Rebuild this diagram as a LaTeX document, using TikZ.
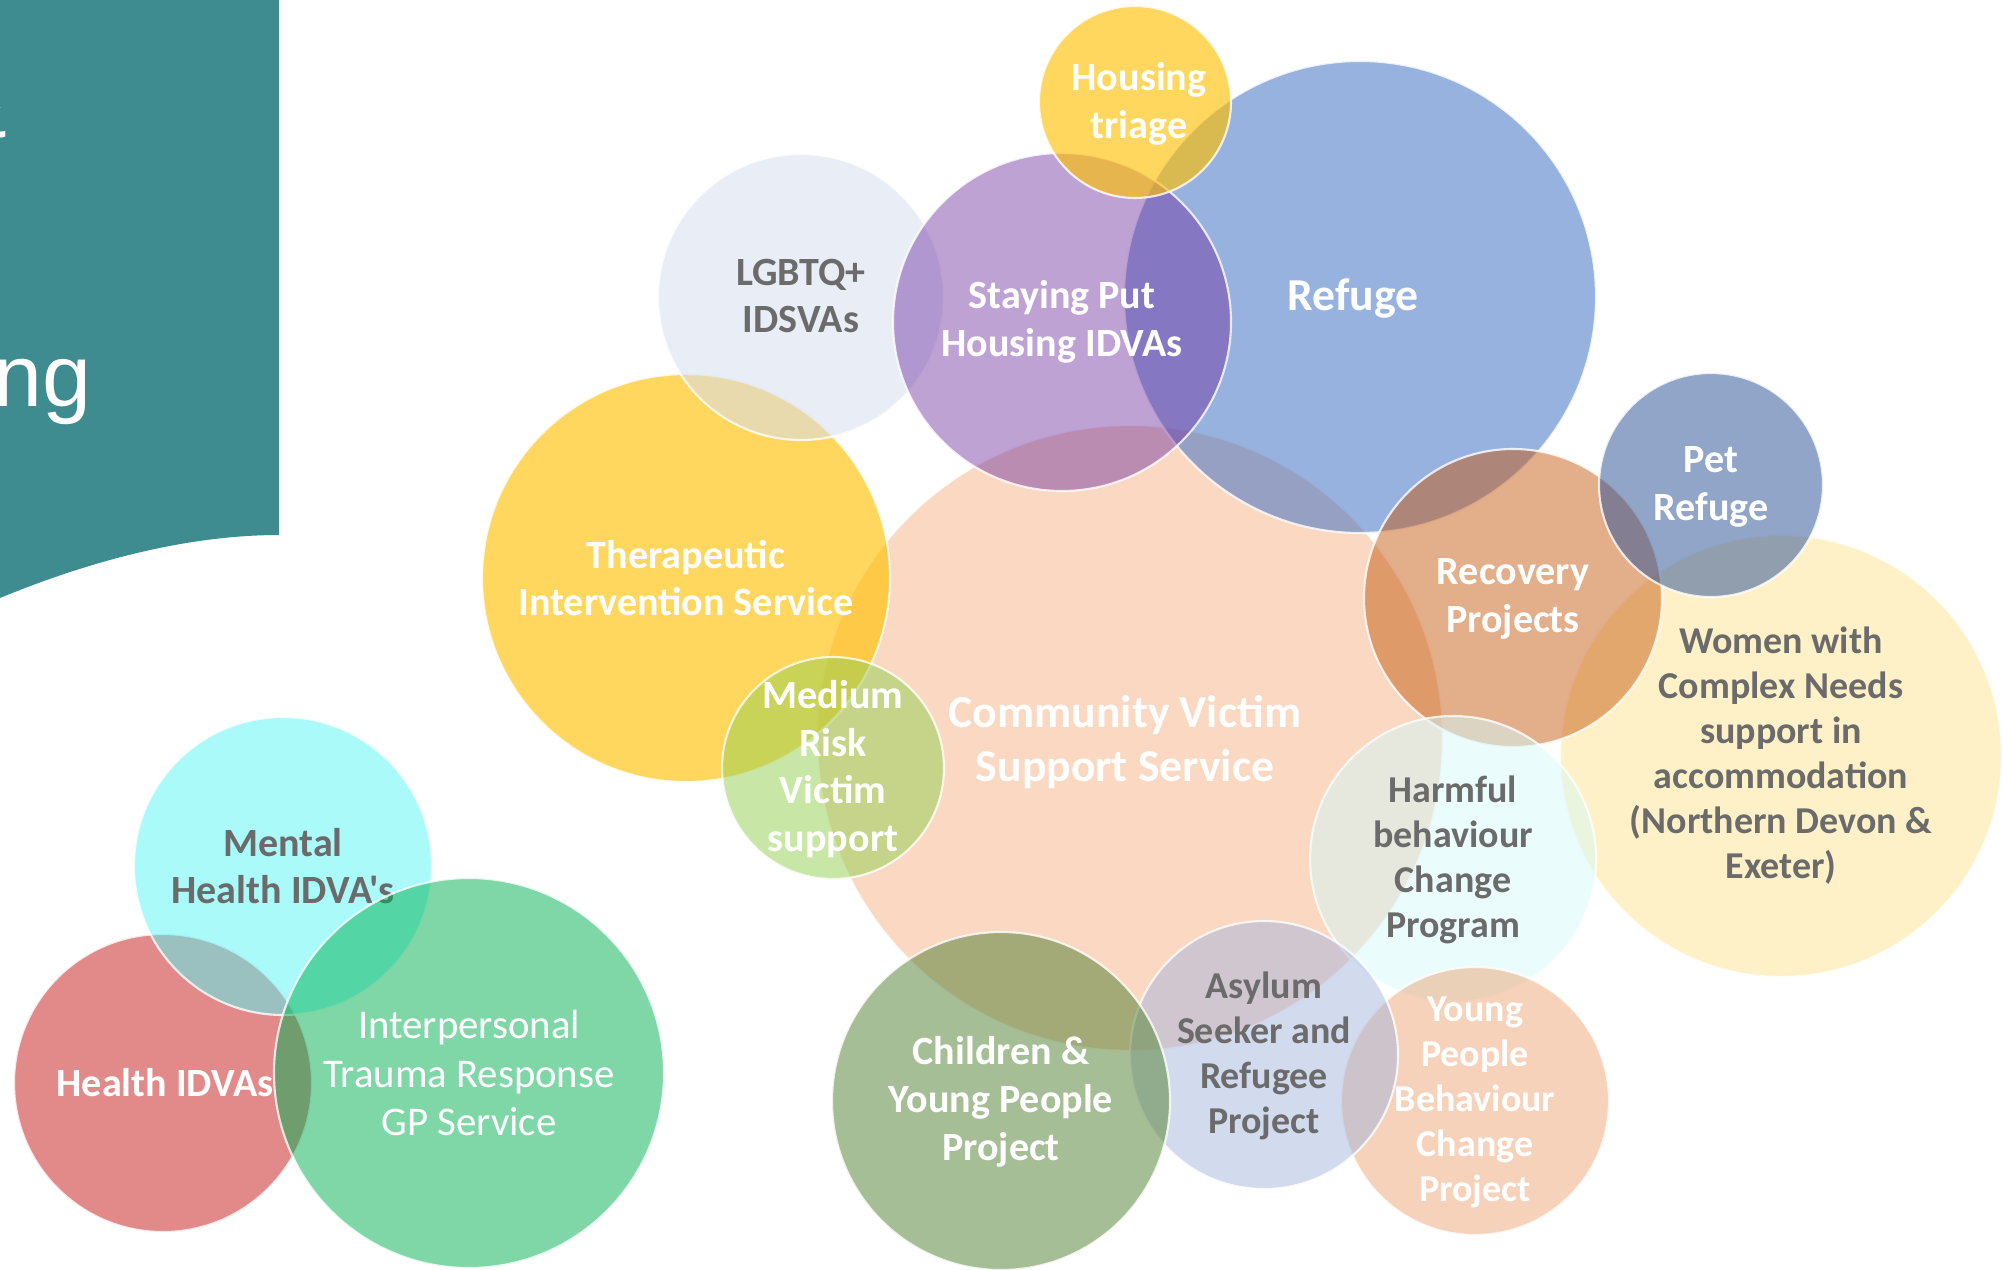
\documentclass[tikz,border=0pt]{standalone}
\usepackage{fontspec}
\setmainfont{Carlito}
\newfontfamily\labelfont{Carlito}
\newfontfamily\panelfont{Liberation Sans}
\usepackage{tikz}

\definecolor{panelteal}{HTML}{3E8B90}
\definecolor{labelgrey}{HTML}{6B6B6B}
\definecolor{refugeblue}{HTML}{4472C4}
\definecolor{stayingpurple}{HTML}{7030A0}
\definecolor{triagegold}{HTML}{FFC000}
\definecolor{lgbtqblue}{HTML}{D5DEEE}
\definecolor{commorange}{HTML}{ED7D31}
\definecolor{mediumgreen}{HTML}{92D050}
\definecolor{recoveryorange}{HTML}{C55A11}
\definecolor{petblue}{HTML}{2F5597}
\definecolor{harmfulcyan}{HTML}{D5F9F9}
\definecolor{asylumblue}{HTML}{A5B5DD}
\definecolor{ypbpeach}{HTML}{EDA575}
\definecolor{childgreen}{HTML}{548235}
\definecolor{mentalcyan}{HTML}{55F5F5}
\definecolor{healthred}{HTML}{C00000}
\definecolor{traumagreen}{HTML}{00B050}

\begin{document}
\begin{tikzpicture}[
x=0.1mm,y=-0.1mm,
bubble/.style={circle,draw=white,draw opacity=.8,line width=0.6pt,inner sep=0pt},
lbl/.style={align=center,text=white,inner sep=0pt,font=\labelfont\bfseries\fontsize{11.4}{13.6}\selectfont},
smalltxt/.style={font=\labelfont\bfseries\fontsize{10.8}{12.8}\selectfont},
bigtxt/.style={font=\labelfont\bfseries\fontsize{13}{15.6}\selectfont},
greytxt/.style={text=labelgrey},
paneltxt/.style={anchor=base east,inner sep=0pt,text=white,font=\panelfont\fontsize{25}{30}\selectfont}
]
\useasboundingbox (0,0) rectangle (2002,1269);
\clip (0,0) rectangle (2002,1269);

% title panel, cut at the left edge
\fill[panelteal] (0,0) -- (279,0) -- (279,535) .. controls (180,535) and (80,565) .. (0,598) -- cycle;
\node[paneltxt] (amp) at (8,137) {\&};
\node[paneltxt] (ng) at (92,406) {ng};

% main cluster
\node[bubble,minimum size=62.6mm,fill=commorange,fill opacity=.30] (comm) at (1130,738) {};
\node[lbl,bigtxt] (comm-l) at (1125,742) {Community Victim\\Support Service};
\node[bubble,minimum size=40.8mm,fill=triagegold,fill opacity=.63] (therap) at (686,578) {};
\node[lbl] (therap-l) at (686,578) {Therapeutic\\Intervention Service};
\node[bubble,minimum size=28.6mm,fill=lgbtqblue,fill opacity=.55] (lgbtq) at (801,297) {};
\node[lbl,greytxt] (lgbtq-l) at (801,296) {LGBTQ+\\IDSVAs};
\node[bubble,minimum size=47.2mm,fill=refugeblue,fill opacity=.55] (refuge) at (1360,297) {};
\node[lbl,bigtxt] (refuge-l) at (1353,298) {Refuge};
\node[bubble,minimum size=33.8mm,fill=stayingpurple,fill opacity=.45] (staying) at (1062,322) {};
\node[lbl] (staying-l) at (1062,322) {Staying Put\\Housing IDVAs};
\node[bubble,minimum size=19.2mm,fill=triagegold,fill opacity=.63] (triage) at (1135,102) {};
\node[lbl] (triage-l) at (1139,104) {Housing\\triage};
\node[bubble,minimum size=22.2mm,fill=mediumgreen,fill opacity=.5] (medium) at (833,768) {};
\node[lbl] (medium-l) at (833,769) {Medium\\Risk\\Victim\\support};

% right hand side
\node[bubble,minimum size=44.2mm,fill=triagegold,fill opacity=.22] (women) at (1781,756) {};
\node[lbl,smalltxt,greytxt] (women-l) at (1781,756) {Women with\\Complex Needs\\support in\\accommodation\\(Northern Devon \&\\Exeter)};
\node[bubble,minimum size=29.8mm,fill=recoveryorange,fill opacity=.49] (recovery) at (1513,598) {};
\node[lbl] (recovery-l) at (1513,599) {Recovery\\Projects};
\node[bubble,minimum size=22.4mm,fill=petblue,fill opacity=.53] (pet) at (1711,485) {};
\node[lbl] (pet-l) at (1711,487) {Pet\\Refuge};
\node[bubble,minimum size=28.6mm,fill=harmfulcyan,fill opacity=.5] (harmful) at (1453,859) {};
\node[lbl,smalltxt,greytxt] (harmful-l) at (1453,860) {Harmful\\behaviour\\Change\\Program};

% bottom row
\node[bubble,minimum size=26.8mm,fill=ypbpeach,fill opacity=.5] (ypb) at (1475,1101) {};
\node[lbl,smalltxt] (ypb-l) at (1475,1102) {Young\\People\\Behaviour\\Change\\Project};
\node[bubble,minimum size=26.8mm,fill=asylumblue,fill opacity=.5] (asylum) at (1264,1055) {};
\node[lbl,smalltxt,greytxt] (asylum-l) at (1264,1056) {Asylum\\Seeker and\\Refugee\\Project};
\node[bubble,minimum size=33.8mm,fill=childgreen,fill opacity=.52] (children) at (1001,1101) {};
\node[lbl] (children-l) at (1001,1102) {Children \&\\Young People\\Project};

% health group
\node[bubble,minimum size=29.8mm,fill=healthred,fill opacity=.46] (health) at (163,1083) {};
\node[lbl] (health-l) at (165,1083) {Health IDVAs};
\node[bubble,minimum size=29.8mm,fill=mentalcyan,fill opacity=.5] (mental) at (283,866) {};
\node[lbl,greytxt] (mental-l) at (283,866) {Mental\\Health IDVA's};
\node[bubble,minimum size=39mm,fill=traumagreen,fill opacity=.5] (trauma) at (469,1073) {};
\node[lbl,font=\labelfont\fontsize{11.6}{13.8}\selectfont] (trauma-l) at (469,1073) {Interpersonal\\Trauma Response\\GP Service};
\end{tikzpicture}
\end{document}
